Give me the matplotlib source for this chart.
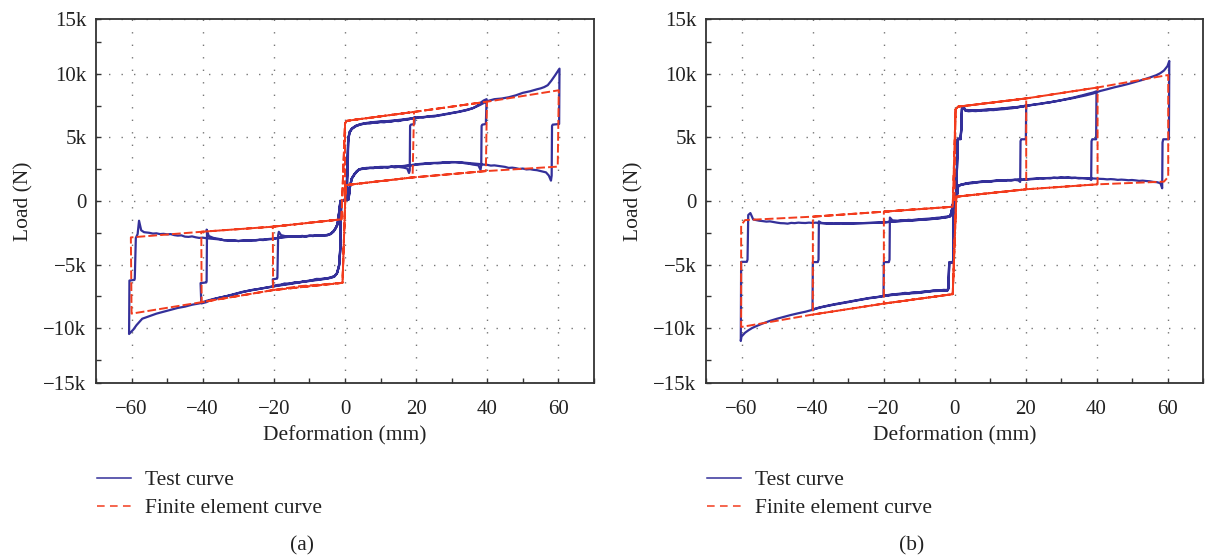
import numpy as np
import matplotlib
matplotlib.use("Agg")
import matplotlib.pyplot as plt
from matplotlib.lines import Line2D
from matplotlib.ticker import FixedLocator, FixedFormatter, MultipleLocator

plt.rcParams['font.family'] = ['Liberation Serif', 'DejaVu Serif']

# ---------------------------------------------------------------- axis setup
x_ticks = [-60, -40, -20, 0, 20, 40, 60]
y_tick_pos = [-14.3, -10, -5, 0, 5, 10, 14.3]          # kN
y_tick_labels = ['\u221215k', '\u221210k', '\u22125k', '0', '5k', '10k', '15k']
y_minor = [-12.5, -7.5, -2.5, 2.5, 7.5, 12.5]          # kN

# ============================================================ specimen (a)
# test curve, deformation (mm) / load (kN), one array pair per half cycle
a_c1_right_x = [0.0, 0.3, 0.6, 0.8, 0.9, 1.2, 1.7, 2.3, 3.0, 4.0, 5.2, 6.0, 7.0, 8.0, 9.0, 10.0, 11.0, 12.0,
                13.0, 14.0, 15.0, 16.0, 17.0, 18.0, 19.0, 19.6,
                19.5, 18.5, 18.3, 18.2, 18.0,
                17.5, 16.5, 15.0, 14.0, 13.0, 12.0, 11.0, 10.0, 9.0, 8.0, 7.0, 6.0, 5.0, 4.0, 3.3, 2.6, 1.9,
                1.4, 1.0, 0.0, -0.9]
a_c1_right_y = [0.0, 0.1, 0.9, 3.0, 4.6, 5.3, 5.6, 5.75, 5.9, 6.0, 6.06, 6.12, 6.09, 6.16, 6.14, 6.2, 6.18, 6.24,
                6.23, 6.3, 6.28, 6.35, 6.38, 6.42, 6.5, 6.58,
                6.05, 6.0, 5.9, 2.4, 2.2,
                2.55, 2.62, 2.68, 2.64, 2.7, 2.62, 2.66, 2.6, 2.64, 2.58, 2.6, 2.55, 2.56, 2.47, 2.3, 2.05, 1.75,
                1.1, 0.1, 0.06, 0.04]
a_c1_left_x = [-0.9, -1.1, -1.2, -1.3, -1.6, -2.2, -3.0, -4.0, -5.0, -6.0, -7.0, -8.0, -9.0, -10.0, -11.0, -12.0,
               -13.0, -14.0, -15.0, -16.0, -17.0, -18.0, -19.0, -20.2,
               -20.3, -19.1, -19.0, -18.8, -18.6,
               -18.0, -17.0, -16.0, -15.0, -14.0, -13.0, -12.0, -11.0, -10.0, -9.0, -8.0, -7.0, -6.0, -5.0,
               -4.0, -3.2, -2.6, -2.1, -1.7, -1.4, -1.3]
a_c1_left_y = [0.04, -0.6, -1.5, -3.5, -5.0, -5.65, -5.9, -6.0, -6.07, -6.1, -6.13, -6.12, -6.2, -6.28, -6.3, -6.35,
               -6.4, -6.38, -6.45, -6.5, -6.48, -6.58, -6.6, -6.7,
               -6.15, -6.1, -6.0, -2.7, -2.42,
               -2.68, -2.75, -2.8, -2.76, -2.82, -2.78, -2.74, -2.8, -2.72, -2.76, -2.7, -2.73, -2.68, -2.7,
               -2.6, -2.4, -2.15, -1.85, -1.0, -0.3, 0.0]
a_c2_right_x = [-1.3, -0.2, 0.4, 0.7, 0.9, 1.3, 2.0, 3.0, 4.5, 6.0, 8.0, 10.0, 12.0, 14.0, 16.0, 18.0, 19.5, 21.0,
                22.0, 23.0, 24.0, 25.0, 26.0, 27.0, 28.0, 29.0, 30.0, 31.0, 32.0, 33.0, 34.0, 35.0, 36.0, 37.0,
                38.0, 39.0, 39.8,
                39.6, 38.6, 38.4, 38.3, 38.1,
                37.5, 36.0, 35.0, 34.0, 33.0, 32.0, 31.0, 30.0, 29.0, 28.0, 27.0, 26.0, 25.0, 24.0, 23.0, 22.0,
                21.0, 20.0, 19.0, 18.0, 16.0, 14.0, 12.0, 10.0, 8.0, 6.0, 5.0, 4.0, 3.3, 2.6, 1.9, 1.4, 1.0,
                0.0, -0.9]
a_c2_right_y = [0.0, 0.05, 0.4, 2.8, 4.8, 5.4, 5.68, 5.86, 6.03, 6.1, 6.18, 6.22, 6.26, 6.3, 6.36, 6.44, 6.52, 6.58,
                6.55, 6.62, 6.65, 6.63, 6.7, 6.74, 6.8, 6.84, 6.9, 6.95, 7.0, 7.06, 7.12, 7.2, 7.3, 7.45,
                7.7, 7.9, 8.0,
                6.05, 6.0, 5.9, 2.8, 2.45,
                2.8, 2.86, 2.92, 2.95, 3.0, 3.02, 3.05, 3.04, 3.0, 3.03, 2.98, 2.96, 2.98, 2.93, 2.95, 2.9,
                2.88, 2.86, 2.8, 2.78, 2.72, 2.7, 2.68, 2.68, 2.62, 2.6, 2.55, 2.5, 2.35, 2.1, 1.78, 1.15, 0.15,
                0.06, 0.03]
a_c2_left_x = [-0.9, -1.1, -1.2, -1.35, -1.7, -2.3, -3.0, -4.0, -5.0, -7.0, -9.0, -11.0, -13.0, -15.0, -17.0,
               -19.0, -20.5, -22.0, -24.0, -26.0, -28.0, -30.0, -32.0, -34.0, -36.0, -38.0, -39.0, -40.4,
               -40.6, -39.0, -38.9, -38.8, -38.9,
               -38.3, -37.0, -36.0, -35.0, -34.0, -33.0, -32.0, -31.0, -30.0, -29.0, -28.0, -27.0, -26.0, -25.0,
               -24.0, -23.0, -22.0, -21.0, -20.0, -19.0, -18.0, -16.0, -14.0, -12.0, -10.0, -8.0, -6.0, -5.0,
               -4.0, -3.2, -2.6, -2.1, -1.7, -1.4, -1.3]
a_c2_left_y = [0.03, -0.5, -1.6, -3.8, -5.1, -5.7, -5.92, -6.02, -6.08, -6.15, -6.22, -6.3, -6.38, -6.47, -6.55,
               -6.64, -6.72, -6.8, -6.9, -6.98, -7.1, -7.25, -7.4, -7.52, -7.64, -7.82, -7.95, -8.05,
               -6.45, -6.4, -6.3, -2.6, -2.25,
               -2.75, -2.9, -2.95, -3.0, -3.08, -3.1, -3.12, -3.1, -3.15, -3.12, -3.1, -3.13, -3.08, -3.1,
               -3.05, -3.07, -3.02, -3.0, -2.98, -2.9, -2.85, -2.8, -2.82, -2.76, -2.75, -2.72, -2.7, -2.68,
               -2.58, -2.38, -2.12, -1.82, -1.0, -0.3, 0.0]
a_c3_right_x = [-1.3, -0.2, 0.4, 0.7, 0.9, 1.3, 2.0, 3.0, 4.5, 6.0, 8.0, 10.0, 12.0, 14.0, 16.0, 18.0, 20.0, 22.0,
                24.0, 26.0, 28.0, 30.0, 32.0, 34.0, 36.0, 38.0, 40.0, 42.0, 44.0, 46.0, 48.0, 50.0, 52.0, 54.0,
                55.0, 56.0, 57.0, 58.0, 59.0, 60.3,
                60.2, 58.4, 58.2, 58.1, 57.9,
                57.3, 56.5, 55.0, 54.0, 53.0, 52.0, 51.0, 50.0, 49.0, 48.0, 47.0, 46.0, 45.0, 44.0, 43.0, 42.0,
                41.0, 40.0, 39.0, 38.0, 36.0, 34.0, 32.0, 30.0, 28.0, 26.0, 24.0, 22.0, 20.0, 18.0, 16.0, 14.0,
                12.0, 10.0, 8.0, 6.0, 5.0, 4.0, 3.3, 2.6, 1.9, 1.4, 1.0, 0.0, -0.9]
a_c3_right_y = [0.0, 0.06, 0.5, 3.0, 4.9, 5.45, 5.72, 5.9, 6.05, 6.13, 6.2, 6.25, 6.28, 6.33, 6.4, 6.47, 6.55, 6.6,
                6.66, 6.72, 6.82, 6.92, 7.02, 7.15, 7.3, 7.55, 7.85, 8.0, 8.05, 8.15, 8.3, 8.5, 8.62, 8.78,
                8.85, 8.95, 9.1, 9.45, 9.85, 10.4,
                6.05, 6.0, 5.9, 2.0, 1.6,
                2.0, 2.25, 2.35, 2.42, 2.45, 2.5, 2.48, 2.55, 2.52, 2.58, 2.62, 2.6, 2.68, 2.72, 2.76, 2.8,
                2.78, 2.84, 2.86, 2.9, 2.95, 3.0, 3.05, 3.06, 3.04, 3.0, 2.98, 2.94, 2.88, 2.8, 2.74, 2.7,
                2.66, 2.65, 2.6, 2.58, 2.52, 2.48, 2.32, 2.08, 1.76, 1.12, 0.12, 0.05, 0.02]
a_c3_left_x = [-0.9, -1.1, -1.2, -1.35, -1.7, -2.3, -3.0, -4.0, -5.0, -7.0, -9.0, -11.0, -13.0, -15.0, -17.0,
               -19.0, -21.0, -23.0, -25.0, -27.0, -29.0, -31.0, -33.0, -35.0, -37.0, -39.0, -41.0, -43.0, -45.0,
               -47.0, -49.0, -51.0, -53.0, -55.0, -57.0, -58.6, -59.5, -60.7,
               -60.6, -59.2, -59.1, -58.8, -58.3, -57.9, -57.3,
               -56.5, -55.0, -54.0, -53.0, -52.0, -51.0, -50.0, -49.0, -48.0, -47.0, -46.0, -45.0, -44.0, -43.0,
               -42.0, -41.0, -40.0, -39.0, -38.0, -36.0, -34.0, -32.0, -30.0, -28.0, -26.0, -24.0, -22.0, -20.0,
               -18.0, -16.0, -14.0, -12.0, -10.0, -8.0, -6.0, -5.0, -4.0, -3.2, -2.6, -2.1, -1.7, -1.4, -1.3]
a_c3_left_y = [0.02, -0.55, -1.7, -4.0, -5.15, -5.72, -5.95, -6.04, -6.1, -6.18, -6.25, -6.32, -6.4, -6.5, -6.58,
               -6.66, -6.76, -6.85, -6.95, -7.05, -7.15, -7.3, -7.45, -7.58, -7.7, -7.85, -8.05, -8.15, -8.3,
               -8.4, -8.55, -8.7, -8.85, -9.05, -9.25, -9.75, -10.1, -10.45,
               -6.25, -6.2, -6.1, -2.9, -2.6, -1.55, -2.3,
               -2.45, -2.5, -2.56, -2.54, -2.6, -2.58, -2.62, -2.6, -2.68, -2.72, -2.7, -2.8, -2.82, -2.78,
               -2.85, -2.9, -2.88, -2.92, -2.95, -3.0, -3.08, -3.1, -3.14, -3.1, -3.1, -3.04, -3.0, -2.95,
               -2.88, -2.82, -2.8, -2.78, -2.74, -2.72, -2.7, -2.66, -2.56, -2.36, -2.1, -1.8, -1.0, -0.3, 0.0]

# finite element curve (a)
fe_a_x = [0.0, 0.0, 0.5, 19.4, 19.0, 0.2, -0.7, -12.7, -20.2, -20.3, -1.0,
          0.0, 0.5, 19.4, 39.9, 39.6, 19.0, 0.2, -0.7, -20.2, -40.3, -40.4, -20.3, -1.0,
          0.0, 0.5, 19.4, 39.9, 60.1, 59.8, 39.6, 19.0, 0.2, -0.7, -20.2, -40.3, -60.0, -60.2, -40.4, -20.3, -1.0]
fe_a_y = [0.0, 6.1, 6.3, 7.0, 1.85, 1.25, -6.43, -6.69, -7.0, -2.02, -1.44,
          6.1, 6.3, 7.0, 7.8, 2.35, 1.85, 1.25, -6.43, -7.0, -7.95, -2.42, -2.02, -1.44,
          6.1, 6.3, 7.0, 7.8, 8.7, 2.7, 2.35, 1.85, 1.25, -6.43, -7.0, -7.95, -8.85, -2.86, -2.42, -2.02, -1.44]

# ============================================================ specimen (b)
b_c1_right_x = [0.0, 0.4, 0.7, 0.9, 1.0, 1.7, 1.9, 2.1, 2.5, 3.0, 4.0, 5.0, 6.0, 7.0, 8.0, 9.0, 10.0, 11.0, 12.0,
                13.0, 14.0, 15.0, 16.0, 17.0, 18.0, 19.0, 20.2,
                20.1, 18.8, 18.6, 18.5,
                18.0, 17.0, 16.0, 15.0, 14.0, 13.0, 12.0, 11.0, 10.0, 9.0, 8.0, 7.0, 6.0, 5.0, 4.0, 3.0, 2.0,
                1.3, 1.0, 0.8, 0.4, 0.0]
b_c1_right_y = [0.0, 0.3, 2.5, 4.8, 4.85, 4.85, 5.5, 7.2, 7.4, 7.1, 7.05, 7.08, 7.06, 7.1, 7.12, 7.1, 7.15, 7.14, 7.18,
                7.2, 7.22, 7.26, 7.28, 7.32, 7.36, 7.42, 7.5,
                4.85, 4.85, 4.7, 1.5,
                1.62, 1.66, 1.62, 1.65, 1.6, 1.63, 1.58, 1.56, 1.52, 1.55, 1.5, 1.48, 1.45, 1.4, 1.38, 1.33, 1.28,
                1.2, 1.12, 0.6, 0.2, 0.05]
b_c1_left_x = [0.0, -0.3, -0.35, -0.5, -1.4, -1.5, -1.7, -2.0, -3.0, -4.0, -5.0, -6.0, -7.0, -8.0, -9.0, -10.0,
               -11.0, -12.0, -13.0, -14.0, -15.0, -16.0, -17.0, -18.0, -19.0, -20.0,
               -19.9, -18.5, -18.3, -18.2,
               -17.5, -16.0, -15.0, -14.0, -13.0, -12.0, -11.0, -10.0, -9.0, -8.0, -7.0, -6.0, -5.0, -4.0, -3.0,
               -2.0, -1.2, -0.8, -0.5, -0.2, 0.0]
b_c1_left_y = [0.05, -0.5, -4.6, -4.8, -4.8, -4.9, -6.8, -7.0, -6.98, -7.02, -7.04, -7.03, -7.08, -7.1, -7.12, -7.18,
               -7.17, -7.2, -7.24, -7.22, -7.28, -7.3, -7.33, -7.36, -7.4, -7.46,
               -4.8, -4.8, -4.6, -1.3,
               -1.52, -1.55, -1.5, -1.53, -1.48, -1.5, -1.46, -1.45, -1.42, -1.4, -1.38, -1.36, -1.32, -1.3, -1.26,
               -1.22, -1.18, -0.8, -0.3, -0.05, 0.0]
b_c2_right_x = [0.0, 0.4, 0.7, 0.9, 1.0, 1.7, 1.9, 2.1, 2.5, 3.0, 5.0, 7.0, 9.0, 11.0, 13.0, 15.0, 17.0, 19.0, 21.0,
                22.0, 23.0, 24.0, 25.0, 26.0, 27.0, 28.0, 29.0, 30.0, 31.0, 32.0, 33.0, 34.0, 35.0, 36.0, 37.0,
                38.0, 39.0, 40.0,
                39.9, 38.8, 38.6, 38.5,
                38.0, 37.0, 36.0, 35.0, 34.0, 33.0, 32.0, 31.0, 30.0, 29.0, 28.0, 27.0, 26.0, 25.0, 24.0, 23.0,
                22.0, 21.0, 20.0, 19.0, 18.0, 16.0, 14.0, 12.0, 10.0, 8.0, 6.0, 4.0, 3.0, 2.0, 1.3, 1.0, 0.8,
                0.4, 0.0]
b_c2_right_y = [0.0, 0.35, 2.6, 4.82, 4.88, 4.88, 5.6, 7.25, 7.42, 7.14, 7.1, 7.12, 7.16, 7.2, 7.24, 7.3, 7.34, 7.42,
                7.5, 7.55, 7.6, 7.62, 7.68, 7.72, 7.76, 7.82, 7.86, 7.92, 7.98, 8.04, 8.1, 8.16, 8.24, 8.3, 8.38,
                8.45, 8.52, 8.62,
                4.85, 4.85, 4.7, 1.65,
                1.75, 1.78, 1.8, 1.78, 1.82, 1.8, 1.84, 1.82, 1.85, 1.8, 1.83, 1.78, 1.8, 1.76, 1.78, 1.74,
                1.72, 1.7, 1.68, 1.66, 1.68, 1.64, 1.62, 1.6, 1.56, 1.52, 1.47, 1.4, 1.35, 1.3, 1.22, 1.14, 0.62,
                0.22, 0.06]
b_c2_left_x = [0.0, -0.3, -0.35, -0.5, -1.4, -1.5, -1.7, -2.0, -4.0, -6.0, -8.0, -10.0, -12.0, -14.0, -16.0,
               -18.0, -20.0, -22.0, -24.0, -26.0, -28.0, -30.0, -32.0, -34.0, -36.0, -38.0, -39.0, -40.0,
               -39.9, -38.5, -38.3, -38.2,
               -37.5, -36.0, -34.0, -32.0, -30.0, -28.0, -26.0, -24.0, -22.0, -20.0, -19.0, -18.0, -16.0, -14.0,
               -12.0, -10.0, -8.0, -6.0, -4.0, -2.0, -1.2, -0.8, -0.5, -0.2, 0.0]
b_c2_left_y = [0.06, -0.5, -4.65, -4.82, -4.82, -4.92, -6.85, -7.02, -7.04, -7.06, -7.12, -7.2, -7.22, -7.28, -7.32,
               -7.38, -7.46, -7.55, -7.62, -7.72, -7.82, -7.92, -8.02, -8.12, -8.24, -8.36, -8.44, -8.55,
               -4.8, -4.8, -4.6, -1.6,
               -1.72, -1.76, -1.78, -1.75, -1.78, -1.76, -1.74, -1.72, -1.7, -1.68, -1.66, -1.62, -1.58, -1.55,
               -1.52, -1.48, -1.44, -1.4, -1.34, -1.26, -1.2, -0.82, -0.3, -0.05, 0.0]
b_c3_right_x = [0.0, 0.4, 0.7, 0.9, 1.0, 1.7, 1.9, 2.1, 2.5, 3.0, 5.0, 7.0, 9.0, 11.0, 13.0, 15.0, 17.0, 19.0, 21.0,
                23.0, 25.0, 27.0, 29.0, 31.0, 33.0, 35.0, 37.0, 39.0, 41.0, 43.0, 45.0, 47.0, 49.0, 51.0, 53.0,
                55.0, 57.0, 58.0, 59.0, 60.0, 60.5,
                60.4, 58.8, 58.6, 58.5,
                58.0, 57.0, 56.0, 55.0, 54.0, 53.0, 52.0, 51.0, 50.0, 49.0, 48.0, 47.0, 46.0, 45.0, 44.0, 43.0,
                42.0, 41.0, 40.0, 38.0, 36.0, 34.0, 32.0, 30.0, 28.0, 26.0, 24.0, 22.0, 20.0, 18.0, 16.0, 14.0,
                12.0, 10.0, 8.0, 6.0, 4.0, 3.0, 2.0, 1.3, 1.0, 0.8, 0.4, 0.0]
b_c3_right_y = [0.0, 0.3, 2.7, 4.85, 4.9, 4.9, 5.7, 7.3, 7.45, 7.16, 7.12, 7.14, 7.18, 7.22, 7.26, 7.32, 7.36, 7.44,
                7.52, 7.6, 7.68, 7.76, 7.86, 7.96, 8.06, 8.18, 8.3, 8.44, 8.64, 8.78, 8.93, 9.06, 9.2, 9.36, 9.52,
                9.7, 9.9, 10.05, 10.25, 10.6, 11.0,
                4.85, 4.85, 4.6, 1.0,
                1.4, 1.48, 1.5, 1.55, 1.57, 1.6, 1.58, 1.62, 1.65, 1.63, 1.66, 1.68, 1.66, 1.7, 1.72, 1.7,
                1.73, 1.74, 1.76, 1.78, 1.8, 1.82, 1.84, 1.83, 1.82, 1.8, 1.79, 1.75, 1.7, 1.67, 1.65, 1.63,
                1.6, 1.55, 1.53, 1.48, 1.42, 1.36, 1.3, 1.22, 1.15, 0.6, 0.2, 0.05]
b_c3_left_x = [0.0, -0.3, -0.35, -0.5, -1.4, -1.5, -1.7, -2.0, -4.0, -6.0, -8.0, -10.0, -12.0, -14.0, -16.0,
               -18.0, -20.0, -22.0, -24.0, -26.0, -28.0, -30.0, -32.0, -34.0, -36.0, -38.0, -40.0, -42.0, -44.0,
               -46.0, -48.0, -50.0, -52.0, -54.0, -56.0, -57.0, -58.0, -59.0, -60.0, -60.2,
               -60.1, -58.5, -58.3, -58.1, -57.5, -56.7,
               -55.0, -54.0, -53.0, -52.0, -51.0, -50.0, -49.0, -48.0, -47.0, -46.0, -45.0, -44.0, -43.0, -42.0,
               -41.0, -40.0, -39.0, -38.0, -36.0, -34.0, -32.0, -30.0, -28.0, -26.0, -24.0, -22.0, -20.0, -18.0,
               -16.0, -14.0, -12.0, -10.0, -8.0, -6.0, -4.0, -2.0, -1.2, -0.8, -0.5, -0.2, 0.0]
b_c3_left_y = [0.05, -0.5, -4.7, -4.82, -4.82, -4.95, -6.9, -7.05, -7.06, -7.08, -7.14, -7.22, -7.25, -7.3, -7.34,
               -7.4, -7.48, -7.57, -7.64, -7.74, -7.84, -7.95, -8.05, -8.15, -8.26, -8.38, -8.55, -8.7, -8.82,
               -8.95, -9.1, -9.25, -9.42, -9.62, -9.85, -9.98, -10.15, -10.35, -10.65, -11.0,
               -4.78, -4.78, -4.6, -1.1, -0.95, -1.45,
               -1.55, -1.58, -1.62, -1.6, -1.65, -1.7, -1.74, -1.75, -1.78, -1.72, -1.74, -1.7, -1.72, -1.73,
               -1.7, -1.72, -1.7, -1.74, -1.76, -1.78, -1.76, -1.77, -1.75, -1.74, -1.73, -1.71, -1.69, -1.63,
               -1.6, -1.56, -1.53, -1.49, -1.45, -1.41, -1.35, -1.27, -1.2, -0.8, -0.3, -0.05, 0.0]

# finite element curve (b)
fe_b_x = [0.0, 0.3, 1.0, 20.2, 20.2, 0.5, -0.5, -19.9, -19.9, -0.5,
          0.3, 1.0, 20.2, 40.3, 40.3, 20.2, 0.5, -0.5, -19.9, -39.9, -39.9, -19.9, -0.5,
          0.3, 1.0, 20.2, 40.3, 60.2, 60.2, 59.0, 40.3, 20.2, 0.5, -0.5, -19.9, -39.9, -60.1, -60.1, -59.0,
          -39.9, -19.9, -0.5]
fe_b_y = [0.0, 7.2, 7.41, 8.06, 0.92, 0.34, -7.32, -8.06, -0.84, -0.45,
          7.2, 7.41, 8.06, 8.92, 1.31, 0.92, 0.34, -7.32, -8.06, -8.92, -1.23, -0.84, -0.45,
          7.2, 7.41, 8.06, 8.92, 9.9, 1.9, 1.52, 1.31, 0.92, 0.34, -7.32, -8.06, -8.92, -9.9, -1.9, -1.5,
          -1.23, -0.84, -0.45]

TEST_COLOR = '#34309a'
FE_COLOR = '#f23c1e'
FE_DASH = (0, (4.5, 1.6))


def join(*parts):
    return np.concatenate([np.asarray(p, dtype=float) for p in parts])


def style_axes(ax):
    ax.set_xlim(-70, 70)
    ax.set_ylim(-14300, 14300)
    ax.xaxis.set_major_locator(FixedLocator(x_ticks))
    ax.xaxis.set_minor_locator(MultipleLocator(10))
    ax.yaxis.set_major_locator(FixedLocator([v * 1000 for v in y_tick_pos]))
    ax.yaxis.set_major_formatter(FixedFormatter(y_tick_labels))
    ax.yaxis.set_minor_locator(FixedLocator([v * 1000 for v in y_minor]))
    ax.tick_params(which='both', direction='in', top=False, right=False,
                   length=3.5, width=1.0, colors='#333333', labelcolor='#222222')
    ax.tick_params(axis='x', which='major', labelsize=15, pad=12)
    ax.tick_params(axis='y', which='major', labelsize=15, pad=7)
    ax.grid(True, which='major', linestyle=(0, (1, 8)), color='#777777', linewidth=1.0)
    ax.set_axisbelow(True)
    for s in ax.spines.values():
        s.set_color('#333333')
        s.set_linewidth(1.3)
    ax.set_xlabel('Deformation (mm)', fontsize=15.5, labelpad=5, color='#222222')
    ax.set_ylabel('Load (N)', fontsize=15.5, labelpad=7, color='#222222')


fig = plt.figure(figsize=(12.08, 5.59), dpi=100)
W, H = 1208.0, 559.0
ax_a = fig.add_axes([96 / W, 1 - 383 / H, 498 / W, 364 / H])
ax_b = fig.add_axes([706 / W, 1 - 383 / H, 497 / W, 364 / H])

panels = [
    (ax_a,
     join(a_c1_right_x, a_c1_left_x, a_c2_right_x, a_c2_left_x, a_c3_right_x, a_c3_left_x),
     join(a_c1_right_y, a_c1_left_y, a_c2_right_y, a_c2_left_y, a_c3_right_y, a_c3_left_y),
     fe_a_x, fe_a_y),
    (ax_b,
     join(b_c1_right_x, b_c1_left_x, b_c2_right_x, b_c2_left_x, b_c3_right_x, b_c3_left_x),
     join(b_c1_right_y, b_c1_left_y, b_c2_right_y, b_c2_left_y, b_c3_right_y, b_c3_left_y),
     fe_b_x, fe_b_y),
]

for ax, tx, ty, fx, fy in panels:
    style_axes(ax)
    ax.plot(tx, ty * 1000, color=TEST_COLOR, lw=1.6, solid_joinstyle='round', zorder=3)
    ax.plot(fx, np.asarray(fy) * 1000, color=FE_COLOR, lw=1.4, linestyle=FE_DASH, zorder=4)

handles = [Line2D([], [], color=TEST_COLOR, lw=1.1),
           Line2D([], [], color=FE_COLOR, lw=1.1, linestyle=(0, (5, 3.5)))]
labels = ['Test curve', 'Finite element curve']
for x0, tag, xt in [(97, '(a)', 302), (707, '(b)', 912)]:
    fig.legend(handles, labels, loc='upper left', bbox_to_anchor=(x0 / W, 1 - 470 / H),
               frameon=False, fontsize=15.5, handlelength=1.6, handletextpad=0.65,
               labelspacing=0.38, borderpad=0, borderaxespad=0, labelcolor='#222222')
    fig.text(xt / W, 1 - 546 / H, tag, ha='center', va='center', fontsize=15.5, color='#222222')

fig.savefig('out.png', dpi=100)
